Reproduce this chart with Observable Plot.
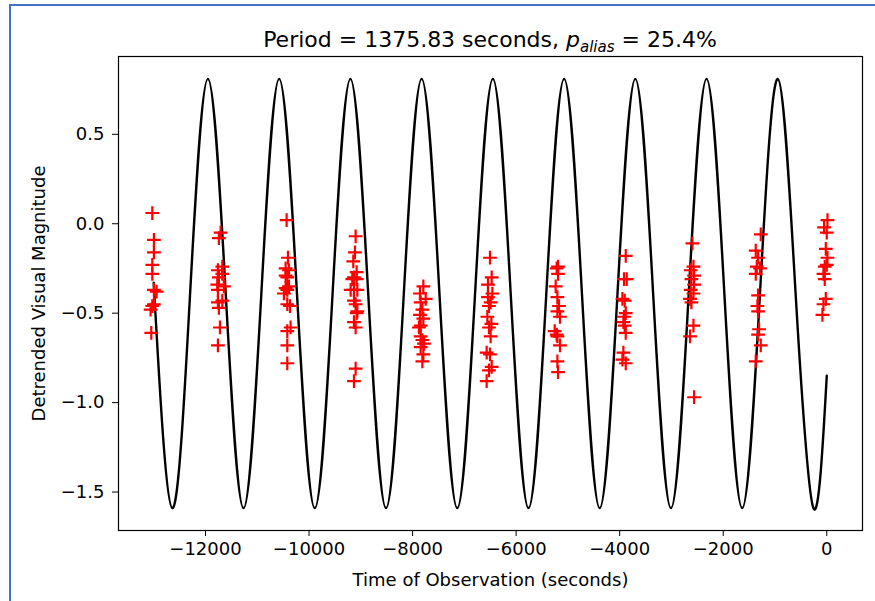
<!DOCTYPE html>
<html>
<head>
<meta charset="utf-8">
<script src="https://cdn.jsdelivr.net/npm/d3@7"></script>
<script src="https://cdn.jsdelivr.net/npm/@observablehq/plot@0.6"></script>
<style>
  html, body { margin: 0; padding: 0; background: #fff; }
  #wrap { position: relative; width: 875px; height: 601px; overflow: hidden; background: #fff; }
  #frameline { position: absolute; left: 9px; top: 4px; right: 0; bottom: 0;
    border-left: 2px solid #4472c4; border-top: 2px solid #4472c4; }
  #title { position: absolute; left: 118px; width: 744px; top: 27px; text-align: center;
    font-family: "DejaVu Sans"; font-size: 22px; line-height: normal; color: #000; white-space: nowrap; }
  #title sub { font-size: 15px; vertical-align: -5px; line-height: 0; }
  #chart { position: absolute; left: 0; top: 0; }
</style>
</head>
<body>
<div id="wrap">
  <div id="frameline"></div>
  <div id="chart"></div>
  <div id="title">Period = 1375.83 seconds, <i>p</i><sub><i>alias</i></sub> = 25.4%</div>
</div>
<script>
// Axis tick values
const xTicks = [-12000, -10000, -8000, -6000, -4000, -2000, 0];
const yTicks = [-1.5, -1.0, -0.5, 0.0, 0.5];

// Model curve vertices (start, troughs, crossings, peaks, end)
const curveTime = [-13000, -12641, -12297, -11953, -11609, -11265, -10921, -10577, -10233, -9889,
  -9545, -9201, -8857, -8513, -8169, -7825, -7481, -7137, -6793, -6449,
  -6105, -5761, -5417, -5073, -4729, -4386, -4042, -3698, -3354, -3010,
  -2666, -2322, -1978, -1634, -1290, -946, -602, -258, 0];
const curveMag = [-0.33, -1.59, -0.39, 0.81, -0.39, -1.59, -0.39, 0.81, -0.39, -1.59,
  -0.39, 0.81, -0.39, -1.59, -0.39, 0.81, -0.39, -1.59, -0.39, 0.81,
  -0.39, -1.59, -0.39, 0.81, -0.39, -1.59, -0.39, 0.81, -0.39, -1.59,
  -0.39, 0.81, -0.39, -1.59, -0.39, 0.81, -0.39, -1.59, -0.85];

// Observations (time in seconds, detrended visual magnitude)
const obsTime = [
  -13027, -12996, -12996, -13027, -13027, -12996, -12944, -12996, -13027, -13060, -13047,
  -11708, -11741, -11675, -11760, -11675, -11741, -11772, -11644, -11760, -11675, -11760, -11741, -11721, -11760,
  -10433, -10407, -10452, -10388, -10452, -10420, -10452, -10388, -10420, -10485, -10420, -10369, -10356, -10420, -10420, -10420,
  -9100, -9113, -9145, -9080, -9132, -9080, -9164, -9132, -9067, -9196, -9132, -9100, -9067, -9080, -9132, -9100, -9100, -9132,
  -7792, -7857, -7747, -7844, -7811, -7857, -7792, -7844, -7877, -7844, -7811, -7780, -7844, -7792, -7811,
  -6505, -6472, -6544, -6459, -6544, -6492, -6524, -6556, -6478, -6524, -6492, -6569, -6505, -6472, -6524, -6569,
  -5191, -5216, -5191, -5236, -5203, -5172, -5203, -5153, -5255, -5216, -5203, -5153, -5203, -5191,
  -3883, -3916, -3864, -3947, -3903, -3883, -3916, -3928, -3903, -3883, -3928, -3947, -3883,
  -2595, -2575, -2628, -2563, -2614, -2563, -2628, -2575, -2641, -2614, -2575, -2641, -2563,
  -1275, -1372, -1327, -1352, -1289, -1372, -1327, -1339, -1327, -1308, -1327, -1275, -1372,
  13, -52, 0, -19, 13, -39, 0, -64, -39, -19, -64, -84
];
const obsMag = [
  0.06, -0.09, -0.16, -0.23, -0.28, -0.37, -0.38, -0.45, -0.46, -0.48, -0.61,
  -0.05, -0.08, -0.24, -0.26, -0.28, -0.30, -0.34, -0.35, -0.37, -0.43, -0.44, -0.47, -0.58, -0.68,
  0.02, -0.19, -0.25, -0.26, -0.29, -0.30, -0.36, -0.35, -0.37, -0.39, -0.45, -0.46, -0.58, -0.60, -0.68, -0.78,
  -0.07, -0.16, -0.21, -0.27, -0.30, -0.31, -0.31, -0.37, -0.37, -0.37, -0.43, -0.45, -0.49, -0.50, -0.55, -0.58, -0.81, -0.88,
  -0.35, -0.39, -0.42, -0.44, -0.48, -0.51, -0.53, -0.57, -0.58, -0.63, -0.65, -0.67, -0.69, -0.73, -0.77,
  -0.19, -0.30, -0.34, -0.39, -0.41, -0.44, -0.46, -0.52, -0.56, -0.58, -0.63, -0.72, -0.73, -0.80, -0.82, -0.88,
  -0.24, -0.25, -0.28, -0.35, -0.41, -0.46, -0.49, -0.52, -0.60, -0.62, -0.63, -0.68, -0.77, -0.83,
  -0.18, -0.31, -0.31, -0.42, -0.43, -0.50, -0.52, -0.55, -0.57, -0.61, -0.72, -0.76, -0.78,
  -0.11, -0.24, -0.26, -0.29, -0.31, -0.34, -0.37, -0.39, -0.42, -0.44, -0.57, -0.63, -0.97,
  -0.06, -0.15, -0.19, -0.24, -0.25, -0.28, -0.40, -0.46, -0.49, -0.59, -0.62, -0.68, -0.77,
  0.02, -0.02, -0.05, -0.14, -0.19, -0.24, -0.23, -0.28, -0.31, -0.42, -0.45, -0.51
];

const curve = curveTime.map((t, i) => ({t, m: curveMag[i]}));
const obs = obsTime.map((t, i) => ({t, m: obsMag[i]}));

const xFmt = d3.format("d");
const yFmt = d3.format(".1f");

const chart = Plot.plot({
  width: 875,
  height: 601,
  marginLeft: 118,
  marginRight: 13,
  marginTop: 56,
  marginBottom: 71,
  style: {fontFamily: "DejaVu Sans", fontSize: "18px", background: "transparent", color: "#000"},
  x: {domain: [-13680, 690]},
  y: {domain: [-1.715, 0.935]},
  marks: [
    Plot.line(curve, {x: "t", y: "m", curve: "natural", stroke: "black", strokeWidth: 2.4}),
    Plot.dot(obs, {x: "t", y: "m", symbol: "plus", stroke: "red", r: 4.5, strokeWidth: 2.2}),
    Plot.frame({stroke: "#000", strokeWidth: 1.2}),
    Plot.axisX({ticks: xTicks, tickFormat: xFmt, tickSize: 6, tickPadding: 6, stroke: "#000",
      label: "Time of Observation (seconds)", labelAnchor: "center", labelArrow: "none", labelOffset: 55}),
    Plot.axisY({ticks: yTicks, tickFormat: yFmt, tickSize: 6, tickPadding: 8, stroke: "#000",
      label: "Detrended Visual Magnitude", labelAnchor: "center", labelArrow: "none", labelOffset: 86})
  ]
});
document.getElementById("chart").appendChild(chart);
</script>
</body>
</html>
